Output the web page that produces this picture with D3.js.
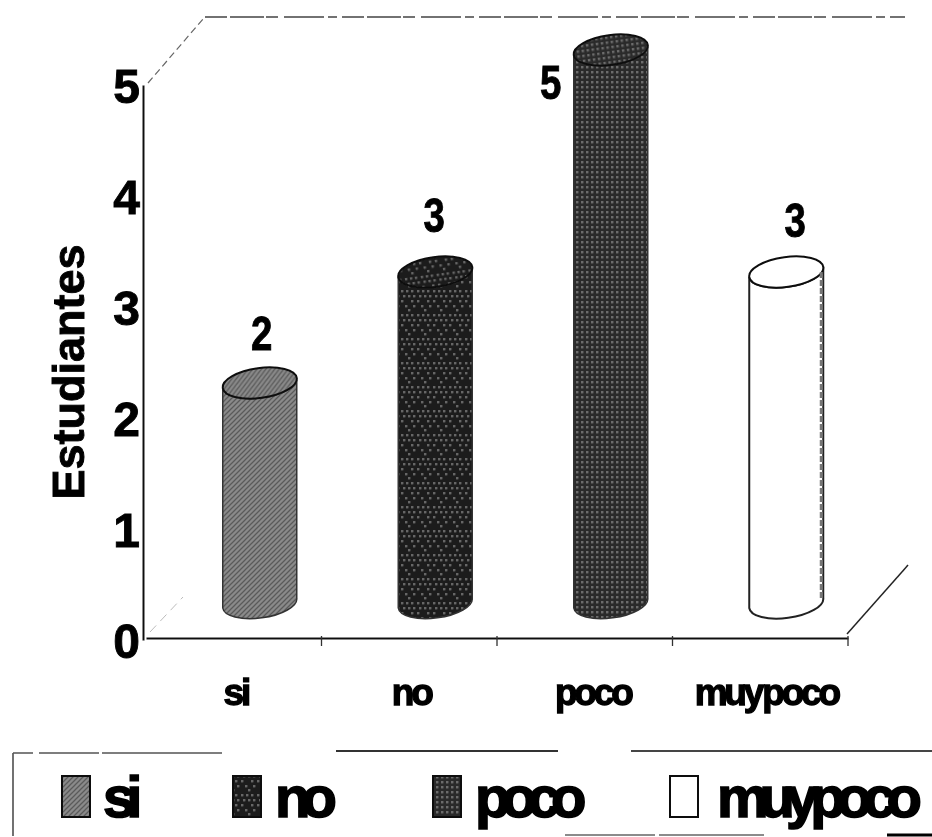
<!DOCTYPE html>
<html><head><meta charset="utf-8">
<script src="https://cdn.jsdelivr.net/npm/d3@7/dist/d3.min.js"></script>
<style>html,body{margin:0;padding:0;background:#fff}svg{display:block}text{font-family:"Liberation Sans",Arial,sans-serif;font-weight:700;fill:#000;stroke:#000;stroke-width:.9px}</style>
</head><body><svg id="c" width="932" height="837"></svg>
<script>
const categories = ["si","no","poco","muy poco"];
const values = [2,3,5,3];
const yTicks = [0,1,2,3,4,5];
const yTitle = "Estudiantes";

const svg = d3.select("#c");
const defs = svg.append("defs");
const f = defs.append("filter").attr("id","scan").attr("filterUnits","userSpaceOnUse").attr("x",0).attr("y",0).attr("width",932).attr("height",837);
f.append("feGaussianBlur").attr("stdDeviation",0.7);

function pat(id,w,h,bg,draw){const p=defs.append("pattern").attr("id",id).attr("patternUnits","userSpaceOnUse").attr("width",w).attr("height",h);p.append("rect").attr("width",w).attr("height",h).attr("fill",bg);draw(p);}
pat("pSi",5,5,"#8a8a8a",p=>p.append("path").attr("d","M-1,6L6,-1M-1,1L1,-1M4,6L6,4").attr("stroke","#5a5a5a").attr("stroke-width",1.3));
pat("pNo",16,24,"#1c1c1c",p=>{[[1,2],[6,2],[11,2],[3,7],[8,7],[13,7],[1,12],[11,12],[5,17],[13,17],[8,21]].forEach(d=>p.append("rect").attr("x",d[0]).attr("y",d[1]).attr("width",2.4).attr("height",2.4).attr("fill","#666"));});
pat("pPoco",5,5,"#2c2c2c",p=>{p.append("rect").attr("x",1).attr("y",1).attr("width",2.4).attr("height",2.4).attr("fill","#6c6c6c");});
pat("pNone",4,4,"#ffffff",()=>{});
const fills = ["pSi","pNo","pPoco","pNone"];

const x = d3.scaleBand().domain(categories).range([146,848]);
const y = d3.scaleLinear().domain([0,5]).range([640,85]);
const depthX = 26, depthY = 35, baseLift = 2, halfW = 37, skew = 5, ry = 15;
const g = svg.append("g").attr("filter","url(#scan)");

// walls
const wall = g.append("g").attr("fill","none");
wall.append("path").attr("d",`M205,17H905`).attr("stroke","#444").attr("stroke-width",1.3).attr("stroke-dasharray","22 3 34 2 12 6 40 4 9 5");
wall.append("path").attr("d",`M148,83L203,19`).attr("stroke-width",1.2).attr("stroke","#666").attr("stroke-dasharray","7 4");
wall.append("path").attr("d",`M150,632L183,597`).attr("stroke-width",1).attr("stroke","#bbb").attr("stroke-dasharray","9 6");
wall.append("path").attr("d",`M847,634L908,565`).attr("stroke-width",1.5).attr("stroke","#222");

// y axis
const ya = g.append("g").attr("transform","translate(143,0)").call(d3.axisLeft(y).tickValues(yTicks).tickSize(0).tickPadding(3).tickFormat(d3.format("d")));
ya.select(".domain").attr("stroke","#111").attr("stroke-width",2);
ya.selectAll("text").attr("font-size",48).attr("transform","translate(0,2)");

// x axis
const xa = g.append("g").attr("transform","translate(0,638)").call(d3.axisBottom(x).tickSize(0).tickPadding(0).tickFormat(""));
xa.select(".domain").attr("stroke","#111").attr("stroke-width",2);
g.append("g").selectAll("line").data(categories).join("line")
  .attr("x1",d=>x(d)+x.bandwidth()).attr("x2",d=>x(d)+x.bandwidth()).attr("y1",636).attr("y2",646).attr("stroke","#333").attr("stroke-width",1.3);

// x labels
const xLabelDx=[2,2,8,6];
g.append("g").selectAll("text").data(categories).join("text")
  .attr("x",(d,i)=>x(d)+x.bandwidth()/2+xLabelDx[i]).attr("y",705).attr("text-anchor","middle")
  .attr("font-size",37).attr("letter-spacing",-3.2).attr("word-spacing",-6).style("stroke-width","1.3px").text(d=>d);

// cylinders
const major = Math.hypot(halfW,skew), rot = -Math.atan2(skew,halfW)*180/Math.PI;
const rows = categories.map((c,i)=>({c,v:values[i],i}));
const bars = g.append("g").selectAll("g").data(rows).join("g");
bars.append("path")
  .attr("d",d=>{const cx=x(d.c)+x.bandwidth()/2+depthX, t=y(d.v)-depthY, b=y(0)-depthY-baseLift;
    return `M${cx-halfW},${t+skew}L${cx-halfW},${b+skew}A${major},${ry},${rot},0,0,${cx+halfW},${b-skew}L${cx+halfW},${t-skew}A${major},${ry},${rot},0,1,${cx-halfW},${t+skew}Z`;})
  .attr("fill",d=>`url(#${fills[d.i]})`).attr("stroke",d=>d.i==3?"#222":"#333").attr("stroke-width",d=>d.i==3?2:1.5);
bars.append("ellipse")
  .attr("cx",0).attr("cy",0).attr("rx",major).attr("ry",ry)
  .attr("transform",d=>`translate(${x(d.c)+x.bandwidth()/2+depthX},${y(d.v)-depthY}) rotate(${rot})`)
  .attr("fill",d=>`url(#${fills[d.i]})`).attr("stroke","#111").attr("stroke-width",2);
// right-side shading on the white cylinder
bars.filter(d=>d.i==3).append("path")
  .attr("d",d=>{const cx=x(d.c)+x.bandwidth()/2+depthX;return `M${cx+halfW-2},${y(d.v)-depthY}V${y(0)-depthY-6}`;})
  .attr("stroke","#777").attr("stroke-width",3).attr("stroke-dasharray","6 2");

// value labels
const labelDx=[2,-1,-60,9], labelDy=[-50,-57,32,-52];
g.append("g").selectAll("text").data(rows).join("text")
  .attr("transform",d=>`translate(${x(d.c)+x.bandwidth()/2+depthX+labelDx[d.i]},${y(d.v)-depthY+labelDy[d.i]}) scale(0.8,1)`)
  .attr("text-anchor","middle").attr("font-size",48).attr("dy","0.36em").text(d=>d.v);

// y title
g.append("text").attr("transform","translate(84,372) rotate(-90)").attr("text-anchor","middle").attr("font-size",45).text(yTitle);

// legend
const legendX = d3.scaleOrdinal().domain(categories).range([62,233,433,670]);
const legendText = d3.scaleOrdinal().domain(categories).range([103,275,475,717]);
const lg = g.append("g");
lg.append("path").attr("d","M13,836V753").attr("fill","none").attr("stroke","#222").attr("stroke-width",1.3);
lg.append("path").attr("d","M13,753H226").attr("fill","none").attr("stroke","#555").attr("stroke-width",1.3).attr("stroke-dasharray","20 6 60 3 120");
lg.append("path").attr("d","M336,751H558").attr("fill","none").attr("stroke","#333").attr("stroke-width",2);
lg.append("path").attr("d","M631,751H932").attr("fill","none").attr("stroke","#444").attr("stroke-width",2);
lg.append("path").attr("d","M565,835H790").attr("fill","none").attr("stroke","#666").attr("stroke-width",1.5).attr("stroke-dasharray","90 4 105 30");
lg.append("path").attr("d","M887,835H932").attr("fill","none").attr("stroke","#000").attr("stroke-width",3);
lg.selectAll("rect").data(categories).join("rect")
  .attr("x",d=>legendX(d)).attr("y",776).attr("width",28).attr("height",41)
  .attr("fill",(d,i)=>`url(#${fills[i]})`).attr("stroke","#111").attr("stroke-width",2);
lg.selectAll("text").data(categories).join("text")
  .attr("x",d=>legendText(d)).attr("y",817).attr("font-size",58).attr("letter-spacing",-9).attr("word-spacing",-6).style("stroke-width","1.6px").text(d=>d);
</script></body></html>
